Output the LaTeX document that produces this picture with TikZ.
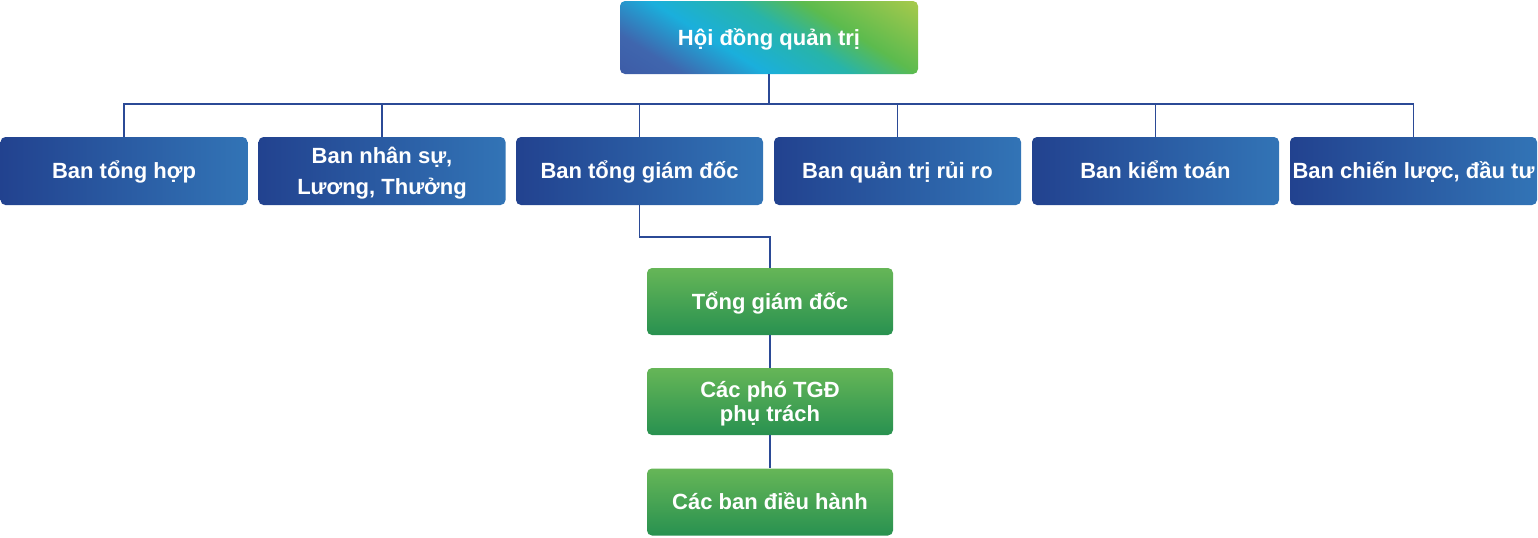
\documentclass[tikz,border=0pt]{standalone}
\usepackage{fontspec}
\setmainfont{Liberation Sans}
\definecolor{linec}{HTML}{2B4A96}
\definecolor{bl}{HTML}{22428F}
\definecolor{br}{HTML}{3274B6}
\definecolor{gt}{HTML}{66B657}
\definecolor{gb}{HTML}{289150}
\definecolor{h1}{HTML}{3D5CA7}
\definecolor{h1b}{HTML}{3F66AE}
\definecolor{h2}{HTML}{1AAFDC}
\definecolor{h3}{HTML}{27B4AA}
\definecolor{h4}{HTML}{5CBB4E}
\definecolor{h5}{HTML}{A6C94C}
\pgfdeclarehorizontalshading{hdqtshade}{100bp}{color(0bp)=(h1); color(33bp)=(h1); color(38bp)=(h1b); color(45bp)=(h2); color(52bp)=(h3); color(57.5bp)=(h4); color(67bp)=(h5); color(100bp)=(h5)}
\begin{document}
\begin{tikzpicture}[x=0.5pt,y=-0.5pt,
  box/.style={rounded corners=2.5pt, text=white, align=center, inner sep=0pt,
    font=\fontsize{11}{12.5}\selectfont\bfseries, text height=7.9pt, text depth=0pt},
  bluebox/.style={box, minimum width=123.5pt, minimum height=34pt, left color=bl, right color=br},
  greenbox/.style={box, minimum width=123pt, minimum height=33.5pt, top color=gt, bottom color=gb},
  twolineA/.style={font=\fontsize{11}{15.5}\selectfont\bfseries, text height=23.4pt},
  twolineB/.style={font=\fontsize{11}{12}\selectfont\bfseries, text height=19.9pt},
  conn/.style={draw=linec, line width=0.75pt}]
\useasboundingbox (0,0) rectangle (1538,537);
\begin{scope}
  \clip[rounded corners=2.5pt] (620,1) rectangle (918,74);
  \shade[shading=hdqtshade, shading angle=58] (609,-122.5) rectangle (929,197.5);
\end{scope}
\node[box, minimum width=149pt, minimum height=36.5pt] (hdqt) at (769,37.5) {Hội đồng quản trị};
\node[bluebox] (b1) at (124,171) {Ban tổng hợp};
\node[bluebox, twolineA] (b2) at (382,171) {Ban nhân sự,\\Lương, Thưởng};
\node[bluebox] (b3) at (639.5,171) {Ban tổng giám đốc};
\node[bluebox] (b4) at (897.5,171) {Ban quản trị rủi ro};
\node[bluebox] (b5) at (1155.5,171) {Ban kiểm toán};
\node[bluebox] (b6) at (1413.5,171) {Ban chiến lược, đầu tư};
\node[greenbox] (g1) at (770,301.5) {Tổng giám đốc};
\node[greenbox, twolineB] (g2) at (770,401.5) {Các phó TGĐ\\phụ trách};
\node[greenbox] (g3) at (770,502) {Các ban điều hành};
\coordinate (bus) at (769,104);
\coordinate (mid) at (639.5,237);
\draw[conn] (hdqt.south) -- (bus);
\foreach \b in {b1,b2,b3,b4,b5,b6} \draw[conn] (\b.north) |- (bus);
\draw[conn] (b3.south) -- (mid) -| (g1.north);
\draw[conn] (g1.south) -- (g2.north);
\draw[conn] (g2.south) -- (g3.north);
\end{tikzpicture}
\end{document}
